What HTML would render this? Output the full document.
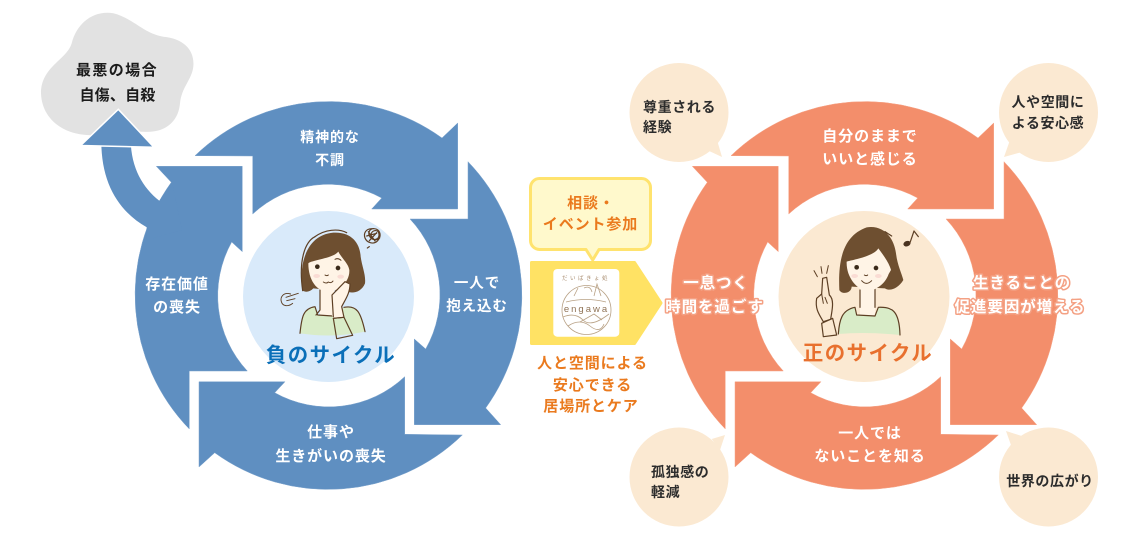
<!DOCTYPE html>
<html lang="ja"><head><meta charset="utf-8"><style>
html,body{margin:0;padding:0;background:#fff;width:1140px;height:539px;overflow:hidden}
svg{display:block}
text{font-family:"Liberation Sans","Noto Sans CJK JP",sans-serif;font-weight:700;text-anchor:middle}
.w{fill:#fff;font-size:14px;letter-spacing:.9px}
.h{fill:#fff;font-size:15.5px;letter-spacing:.9px;paint-order:stroke;stroke:#f4a184;stroke-width:3px;stroke-linejoin:round}
.d{fill:#2c2c2c;font-size:14px;letter-spacing:.6px}
.l{text-anchor:start}
.o{fill:#ea7a1e;font-size:15px;letter-spacing:.9px}
.ln{fill:none;stroke:#5d3f24;stroke-width:3.6;stroke-linecap:round;stroke-linejoin:round}
</style></head><body>
<svg width="1140" height="539" viewBox="0 0 1140 539" xmlns="http://www.w3.org/2000/svg">
<!-- cloud -->
<path fill="#e2e2e2" d="M71.700,43.300C76.700,23.300 93.300,10 113.300,13.300C133.300,18.300 143.300,33.300 163.300,36.700C183.300,38.300 195,50 193.300,66.700C191.700,80 181.700,86.700 180,103.300C178.300,123.300 163.300,133.300 143.300,131.700C116.700,131.700 103.300,136.700 86.700,135C60,133.300 41.700,116.700 41,93.300C41,66.700 66.700,60 71.700,43.300Z"/>
<!-- left ring -->
<g fill="#5f8fc1" stroke="#7ea5ce" stroke-width=".5">
<path d="M195,155.700A193,193 0 0 1 442,138L457.700,123V209H371.700L381.700,198A111,111 0 0 0 252.700,214V156Z"/>
<path d="M468,161.700A193,193 0 0 1 485.700,408L500.700,424.700H414.300V339L425.700,349A110.500,110.500 0 0 0 410,219H468Z"/>
<path d="M462.300,435A193,193 0 0 1 214.700,452.700L199,467V381.700H285L274.700,392.700A110.500,110.500 0 0 0 404.700,376.700V434.300Z"/>
<path d="M189.300,429A193,193 0 0 1 171.300,182.300L156.300,166.300H242.300V251.700L231.700,242A110.500,110.500 0 0 0 247.300,371H189.300Z"/>
</g>
<!-- escape arrow -->
<path fill="#5f8fc1" d="M101.300,140H130.700C131,168 143,188 159.300,200.700L172,182L182,230L146.700,240L146.700,227.300C120,212 101,185 101.300,140Z"/>
<path fill="#5f8fc1" stroke="#fff" stroke-width="1.500" stroke-linejoin="miter" d="M80.700,145.500L118.300,109.300L154,147.300Z"/>
<!-- right ring -->
<g fill="#f38e6b" stroke="#f6a68a" stroke-width=".5">
<path d="M731,155.700A193,193 0 0 1 978,138L993.700,123V209H907.700L917.700,198A111,111 0 0 0 788.700,214V156Z"/>
<path d="M1004,161.700A193,193 0 0 1 1021.700,408L1036.700,424.700H950.300V339L961.700,349A110.500,110.500 0 0 0 946,219H1004Z"/>
<path d="M998.300,435A193,193 0 0 1 750.700,452.700L735,467V381.700H821L810.700,392.700A110.500,110.500 0 0 0 940.700,376.700V434.300Z"/>
<path d="M725.300,429A193,193 0 0 1 707.300,182.300L692.300,166.300H778.300V251.700L767.700,242A110.500,110.500 0 0 0 783.300,371H725.300Z"/>
</g>
<!-- centres -->
<circle cx="328.500" cy="296.500" r="85.500" fill="#d9eafa"/>
<circle cx="864" cy="296.500" r="85.500" fill="#fbe9d2"/>
<!-- left person -->
<g transform="translate(270,220) scale(.33333)">
<path fill="#6e4f30" d="M98,212C86,140 105,45 190,38C245,35 270,70 272,110C276,140 288,165 285,190C275,215 250,222 232,215L130,205C120,215 108,218 98,212Z"/>
<path fill="#fff4e6" d="M150,200H192V290H150Z"/>
<path fill="#d9ecc8" d="M90,340C95,290 100,265 135,260L143,285L195,288L222,262C260,255 272,275 285,335Q190,355 90,340Z"/>
<path class="ln" d="M90,340C95,290 100,265 135,260L143,285L188,288M222,262C260,255 272,275 285,335M150,210V270L138,285M135,50C105,65 85,120 98,212"/>
<path fill="#fff4e6" d="M115,130C125,120 190,115 205,95C215,115 235,130 238,150C240,190 200,215 175,215C140,215 115,180 115,130Z"/>
<path fill="#fff4e6" d="M185,285L190,225L225,185L240,190C240,220 225,240 215,260L222,292L190,295Z"/>
<path class="ln" d="M190,290L186,225L225,185L240,192C240,220 225,240 215,260L222,292L190,295"/>
<path fill="#d9ecc8" class="ln" d="M190,295L222,292L248,346L200,356Z"/>
<path class="ln" d="M135,50C165,28 205,25 230,38"/>
<circle cx="142" cy="140" r="7" fill="#3a2a1a"/><circle cx="204" cy="144" r="7" fill="#3a2a1a"/>
<ellipse cx="140" cy="168" rx="10" ry="6" fill="#fadcd4"/><ellipse cx="212" cy="170" rx="10" ry="6" fill="#fadcd4"/>
<path class="ln" style="stroke-width:3" d="M165,165q6,4 10,0M160,186q10,6 15,0q8,5 14,-3M195,118q10,-5 18,3"/>
<path class="ln" style="stroke-width:2.800" d="M62,222C40,215 30,232 34,245C38,260 55,260 68,250M48,232L85,220M50,242L75,236"/>
<path class="ln" style="stroke-width:3.600" d="M305,26c-18,0 -25,15 -20,28s25,22 38,8s8,-34 -10,-36c-14,-2 -22,14 -12,26s28,6 26,-10s-22,-12 -24,2s16,20 26,10M290,48l30,-8M295,35l20,28M298,62l22,-24M292,84l6,-4"/>
</g>
<!-- right person -->
<g transform="translate(810,220) scale(.33333)">
<path fill="#6e4f30" d="M88,210C85,140 90,50 170,22C215,15 250,45 258,100C262,135 275,160 280,180C265,205 240,215 225,205L125,200C125,220 95,225 88,210Z"/>
<path fill="#fff4e6" d="M150,200H195V290H150Z"/>
<path fill="#d9ecc8" d="M85,342C88,300 95,270 135,262L140,285L195,288L205,262C245,260 268,270 270,345Q170,335 85,342Z"/>
<path class="ln" d="M85,342C88,300 95,270 135,262L140,285L195,288L205,262C245,260 268,270 270,345M150,210V262M195,205V262M225,35L245,48"/>
<path fill="#fff4e6" d="M110,125C125,120 190,110 205,85C220,105 238,130 243,150L236,162C225,195 190,215 170,212C140,210 108,170 110,125Z"/>
<circle cx="140" cy="142" r="7" fill="#3a2a1a"/><circle cx="198" cy="144" r="7" fill="#3a2a1a"/>
<ellipse cx="134" cy="168" rx="10" ry="6" fill="#fadcd4"/><ellipse cx="205" cy="168" rx="10" ry="6" fill="#fadcd4"/>
<path class="ln" style="stroke-width:3" d="M163,165q6,4 10,0M155,182q14,16 30,0"/>
<path fill="#d9ecc8" class="ln" d="M35,310L68,295L80,345L40,350Z"/>
<path fill="#fff4e6" class="ln" d="M38,175L50,172L58,225C75,240 65,275 62,298L40,305C25,280 15,265 20,235L35,222Z"/>
<path class="ln" style="stroke-width:3" d="M12,152L22,170M33,140L36,160M55,137L50,160M35,222L40,250M45,232L52,250"/>
<ellipse cx="291" cy="71" rx="11" ry="8" fill="#4a3320" transform="rotate(-20 291 71)"/>
<path class="ln" d="M300,68L312,33L325,50"/>
</g>
<!-- callout and pentagon -->
<path fill="#fff9cc" stroke="#ffe36e" stroke-width="3" stroke-linejoin="round" d="M539.500,178.500H641.500A9,9 0 0 1 650.500,187.500V240.500A9,9 0 0 1 641.500,249.500H599L592.700,260L586,249.500H539.500A9,9 0 0 1 530.500,240.500V187.500A9,9 0 0 1 539.500,178.500Z"/>
<path fill="#ffe264" stroke="#ffe264" stroke-width="3" stroke-linejoin="round" d="M531.500,262.500H634.500L661,303L634.500,343.500H531.500Z"/>
<rect x="553.300" y="269" width="66" height="67.700" rx="4" fill="#fff"/>
<g fill="none" stroke="#b8a185" stroke-width=".8">
<circle cx="586.500" cy="310" r="24.500"/>
<path d="M563,317q12,-5 20,3t26,-6M568,326q12,-8 22,0t14,-2M566,302q20,-5 40,0M574,296l4,-8M594,296l3,-12l4,12M584,288q6,-3 8,4M580,322l14,-8l8,6"/>
</g>
<text x="586.500" y="312" style="font-size:9.500px;font-weight:400;fill:#8f7356;letter-spacing:2px">engawa</text>
<text x="586" y="280" style="font-size:5.500px;font-weight:400;fill:#a98d70;letter-spacing:2.500px">だいばきょ処</text>
<!-- speech bubbles -->
<g fill="#fbe9d2">
<circle cx="679" cy="112.500" r="49.500"/><path d="M707,150L717,140L722,157Z"/>
<circle cx="1048.500" cy="112.500" r="49.500"/><path d="M1004,157L1010,140L1022,152Z"/>
<circle cx="679" cy="477" r="49.500"/><path d="M711.700,439L725,435L720,450Z"/>
<circle cx="1048.500" cy="477" r="49.500"/><path d="M1006,431L1021.700,436L1012,448Z"/>
</g>
<!-- text -->
<text x="117" y="75" style="font-size:15px;letter-spacing:1.400px;fill:#1b1b1b">最悪の場合</text>
<text x="117.500" y="100" style="font-size:15px;letter-spacing:.2px;fill:#1b1b1b">自傷、自殺</text>
<text class="w" x="330" y="142">精神的な</text><text class="w" x="330" y="165">不調</text>
<text class="w" x="477" y="288" style="font-size:14.500px">一人で</text><text class="w" x="477" y="311" style="font-size:14.500px">抱え込む</text>
<text class="w" x="331" y="437" style="font-size:15px">仕事や</text><text class="w" x="331" y="461" style="font-size:15px">生きがいの喪失</text>
<text class="w" x="177" y="289" style="font-size:15px">存在価値</text><text class="w" x="177" y="312" style="font-size:15px">の喪失</text>
<text x="331" y="362" style="font-size:20.400px;letter-spacing:1.500px;fill:#0a6fb8">負のサイクル</text>
<text x="868" y="360" style="font-size:20.400px;letter-spacing:1.500px;fill:#e8702e">正のサイクル</text>
<text class="o" x="591" y="208">相談・</text>
<text class="o" x="590.500" y="229">イベント参加</text>
<text class="o" x="592.500" y="368">人と空間による</text>
<text class="o" x="592.500" y="390">安心できる</text>
<text class="o" x="591" y="411">居場所とケア</text>
<text class="w" x="870" y="141" style="font-size:15px">自分のままで</text><text class="w" x="870" y="164" style="font-size:15px">いいと感じる</text>
<text class="h" x="716" y="288">一息つく</text><text class="h" x="714.500" y="312">時間を過ごす</text>
<text class="h" x="1022" y="288">生きることの</text><text class="h" x="1020" y="312">促進要因が増える</text>
<text class="w" x="870" y="438" style="font-size:15px">一人では</text><text class="w" x="870" y="461" style="font-size:15px">ないことを知る</text>
<text class="d l" x="643" y="112">尊重される</text><text class="d l" x="643" y="132">経験</text>
<text class="d" x="1048" y="107">人や空間に</text><text class="d" x="1048" y="128">よる安心感</text>
<text class="d l" x="651" y="477">孤独感の</text><text class="d l" x="651" y="497">軽減</text>
<text class="d" x="1050" y="486">世界の広がり</text>
</svg>
</body></html>
